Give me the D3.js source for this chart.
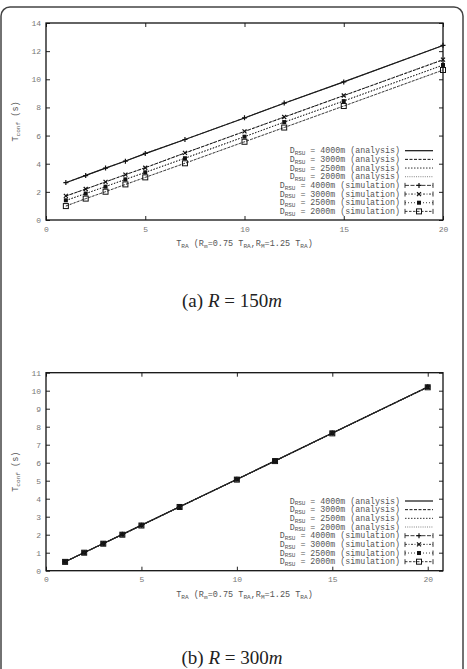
<!DOCTYPE html>
<html>
<head>
<meta charset="utf-8">
<script src="https://cdn.jsdelivr.net/npm/d3@7"></script>
<style>
  body { margin: 0; background: #fff; }
  svg { display: block; }
  .tick text { font-family: "Liberation Mono", monospace; font-size: 8px; fill: #777; }
  .tick line { stroke: #222; stroke-width: 1; }
  .mono { font-family: "Liberation Mono", monospace; fill: #555; }
</style>
</head>
<body>
<svg id="chart" width="467" height="669"></svg>
<script>
// x values (T_RA)
const tra = [1, 2, 3, 4, 5, 7, 10, 12, 15, 20];

// (a) R = 150m
const a4000 = [2.65, 3.17, 3.69, 4.19, 4.72, 5.72, 7.25, 8.3, 9.82, 12.4];
const a3000 = [1.7, 2.2, 2.71, 3.22, 3.72, 4.76, 6.29, 7.31, 8.84, 11.38];
const a2500 = [1.38, 1.88, 2.38, 2.88, 3.38, 4.39, 5.92, 6.95, 8.46, 11.0];
const a2000 = [1.0, 1.51, 2.02, 2.52, 3.03, 4.04, 5.56, 6.58, 8.1, 10.64];
const aSim4000 = [2.66, 3.16, 3.69, 4.18, 4.73, 5.72, 7.26, 8.31, 9.81, 12.41];
const aSim3000 = [1.71, 2.2, 2.71, 3.23, 3.71, 4.77, 6.3, 7.32, 8.85, 11.4];
const aSim2500 = [1.4, 1.88, 2.37, 2.89, 3.39, 4.39, 5.92, 6.96, 8.45, 11.02];
const aSim2000 = [0.99, 1.52, 2.01, 2.53, 3.03, 4.03, 5.56, 6.57, 8.1, 10.66];

// (b) R = 300m
const b4000 = [0.5, 1.01, 1.51, 2.02, 2.53, 3.55, 5.08, 6.1, 7.65, 10.21];
const b3000 = [0.5, 1.0, 1.51, 2.01, 2.52, 3.55, 5.07, 6.1, 7.64, 10.2];
const b2500 = [0.49, 1.0, 1.5, 2.01, 2.52, 3.54, 5.07, 6.09, 7.64, 10.2];
const b2000 = [0.49, 1.0, 1.5, 2.0, 2.51, 3.54, 5.06, 6.09, 7.63, 10.19];
const bSim4000 = [0.5, 1.01, 1.51, 2.02, 2.53, 3.56, 5.08, 6.11, 7.65, 10.22];
const bSim3000 = [0.5, 1.0, 1.51, 2.01, 2.52, 3.55, 5.07, 6.1, 7.64, 10.2];
const bSim2500 = [0.49, 1.0, 1.5, 2.01, 2.52, 3.54, 5.07, 6.09, 7.64, 10.2];
const bSim2000 = [0.49, 1.0, 1.5, 2.0, 2.51, 3.54, 5.06, 6.09, 7.63, 10.19];

const dists = ["4000m", "3000m", "2500m", "2000m"];
const xTicks = [0, 5, 10, 15, 20];
const yTicksA = [0, 2, 4, 6, 8, 10, 12, 14];
const yTicksB = [0, 1, 2, 3, 4, 5, 6, 7, 8, 9, 10, 11];

const svg = d3.select('#chart');

// outer frame of the figure
svg.append('rect')
  .attr('x', 1).attr('y', 7)
  .attr('width', 462).attr('height', 720)
  .attr('rx', 9)
  .attr('fill', 'none').attr('stroke', '#444').attr('stroke-width', 1.5);

// analysis line styles
const anaStyle = [
  {dash: null, color: '#111', w: 1.2},
  {dash: '3,1.5', color: '#111', w: 1},
  {dash: '1.5,1.5', color: '#333', w: 1},
  {dash: '1,1.2', color: '#777', w: 0.9}
];
const simStyle = [
  {dash: '4,1.5', marker: 'plus'},
  {dash: '2,1.5,1,1.5', marker: 'cross'},
  {dash: '1,2', marker: 'fsq'},
  {dash: '2.5,1.5', marker: 'osq'}
];

function drawMarker(g, type, cx, cy) {
  if (type == 'plus') {
    g.append('path').attr('d', `M${cx-2.5},${cy}H${cx+2.5}M${cx},${cy-2.5}V${cy+2.5}`)
      .attr('stroke', '#111').attr('stroke-width', 1.2);
  } else if (type == 'cross') {
    g.append('path').attr('d', `M${cx-2},${cy-2}L${cx+2},${cy+2}M${cx-2},${cy+2}L${cx+2},${cy-2}`)
      .attr('stroke', '#111').attr('stroke-width', 1.2);
  } else if (type == 'fsq') {
    g.append('rect').attr('x', cx-2).attr('y', cy-2).attr('width', 4).attr('height', 4).attr('fill', '#111');
  } else {
    g.append('rect').attr('x', cx-2.5).attr('y', cy-2.5).attr('width', 5).attr('height', 5)
      .attr('fill', 'none').attr('stroke', '#111').attr('stroke-width', 1);
  }
}

function subText(sel, parts) {
  // parts: [text, isSub]
  let down = false;
  parts.forEach(([t, sub]) => {
    const ts = sel.append('tspan').text(t);
    if (sub) ts.attr('font-size', '0.72em');
    if (sub && !down) { ts.attr('dy', 1.8); down = true; }
    else if (!sub && down) { ts.attr('dy', -1.8); down = false; }
  });
}

function panel(opts) {
  const {xDomain, yDomain, top, bottom, yTicks, ana, sim, legendY, caption, captionY} = opts;
  const left = 46, right = 443;
  const x = d3.scaleLinear().domain(xDomain).range([left, right]);
  const y = d3.scaleLinear().domain(yDomain).range([bottom, top]);
  const g = svg.append('g');

  g.append('g').attr('transform', `translate(${left},0)`)
    .call(d3.axisLeft(y).tickValues(yTicks).tickSize(-4).tickPadding(5))
    .call(a => a.select('.domain').remove());
  g.append('g').attr('transform', `translate(${right},0)`)
    .call(d3.axisRight(y).tickValues(yTicks).tickSize(-4).tickFormat(''))
    .call(a => a.select('.domain').remove());
  g.append('g').attr('transform', `translate(0,${bottom})`)
    .call(d3.axisBottom(x).tickValues(xTicks).tickSize(-4).tickPadding(6))
    .call(a => a.select('.domain').remove());
  g.append('g').attr('transform', `translate(0,${top})`)
    .call(d3.axisTop(x).tickValues(xTicks).tickSize(-4).tickFormat(''))
    .call(a => a.select('.domain').remove());
  g.selectAll('.tick text').attr('fill', '#777');

  g.append('rect').attr('x', left).attr('y', top)
    .attr('width', right - left).attr('height', bottom - top)
    .attr('fill', 'none').attr('stroke', '#111').attr('stroke-width', 1.3);

  const line = d3.line().x((d, i) => x(tra[i])).y(d => y(d));

  // analysis
  ana.forEach((s, k) => {
    g.append('path').datum(s).attr('d', line)
      .attr('fill', 'none').attr('stroke', anaStyle[k].color)
      .attr('stroke-width', anaStyle[k].w)
      .attr('stroke-dasharray', anaStyle[k].dash);
  });
  // simulation
  sim.forEach((s, k) => {
    g.append('path').datum(s).attr('d', line)
      .attr('fill', 'none').attr('stroke', '#222').attr('stroke-width', 0.8)
      .attr('stroke-dasharray', simStyle[k].dash);
    s.forEach((v, i) => drawMarker(g, simStyle[k].marker, x(tra[i]), y(v)));
  });

  // legend
  const lx = 400, sx0 = 405, sx1 = 433, dy = 8.67;
  dists.forEach((d, k) => {
    const ry = legendY + k * dy;
    const t = g.append('text').attr('class', 'mono').attr('x', lx).attr('y', ry + 2.5)
      .attr('text-anchor', 'end').attr('font-size', 8.3);
    subText(t, [['D', false], ['RSU', true], [` = ${d} (analysis)`, false]]);
    g.append('line').attr('x1', sx0).attr('x2', sx1).attr('y1', ry).attr('y2', ry)
      .attr('stroke', anaStyle[k].color).attr('stroke-width', anaStyle[k].w)
      .attr('stroke-dasharray', anaStyle[k].dash);
  });
  dists.forEach((d, k) => {
    const ry = legendY + (k + 4) * dy;
    const t = g.append('text').attr('class', 'mono').attr('x', lx).attr('y', ry + 2.5)
      .attr('text-anchor', 'end').attr('font-size', 8.3);
    subText(t, [['D', false], ['RSU', true], [` = ${d} (simulation)`, false]]);
    g.append('line').attr('x1', sx0).attr('x2', sx1).attr('y1', ry).attr('y2', ry)
      .attr('stroke', '#222').attr('stroke-width', 0.9)
      .attr('stroke-dasharray', simStyle[k].dash);
    g.append('path').attr('d', `M${sx0},${ry-2.5}V${ry+2.5}M${sx1},${ry-2.5}V${ry+2.5}`)
      .attr('stroke', '#222').attr('stroke-width', 0.9);
    drawMarker(g, simStyle[k].marker, (sx0 + sx1) / 2, ry);
  });

  // axis titles
  const yl = g.append('text').attr('class', 'mono').attr('font-size', 8.5)
    .attr('text-anchor', 'middle')
    .attr('transform', `translate(18,${(top + bottom) / 2}) rotate(-90)`);
  subText(yl, [['T', false], ['conf', true], [' (s)', false]]);

  const xl = g.append('text').attr('class', 'mono').attr('font-size', 8.5)
    .attr('text-anchor', 'middle').attr('x', (left + right) / 2).attr('y', bottom + 26);
  subText(xl, [['T', false], ['RA', true], [' (R', false], ['m', true], ['=0.75 T', false], ['RA', true],
    [',R', false], ['M', true], ['=1.25 T', false], ['RA', true], [')', false]]);

  // caption
  const cap = svg.append('text').attr('x', 232).attr('y', captionY)
    .attr('text-anchor', 'middle')
    .attr('font-family', '"Liberation Serif", "DejaVu Serif", serif')
    .attr('font-size', 19).attr('fill', '#222');
  cap.append('tspan').text(`(${caption[0]})  `);
  cap.append('tspan').attr('font-style', 'italic').text('R');
  cap.append('tspan').text(` = ${caption[1]}`);
  cap.append('tspan').attr('font-style', 'italic').text('m');
}

panel({
  xDomain: [0, 20], yDomain: [0, 14], top: 23, bottom: 220, yTicks: yTicksA,
  ana: [a4000, a3000, a2500, a2000], sim: [aSim4000, aSim3000, aSim2500, aSim2000],
  legendY: 150.7, caption: ['a', '150'], captionY: 307
});
panel({
  xDomain: [0, 20.8], yDomain: [0, 11], top: 372.7, bottom: 570.7, yTicks: yTicksB,
  ana: [b4000, b3000, b2500, b2000], sim: [bSim4000, bSim3000, bSim2500, bSim2000],
  legendY: 501, caption: ['b', '300'], captionY: 664
});
</script>
</body>
</html>
